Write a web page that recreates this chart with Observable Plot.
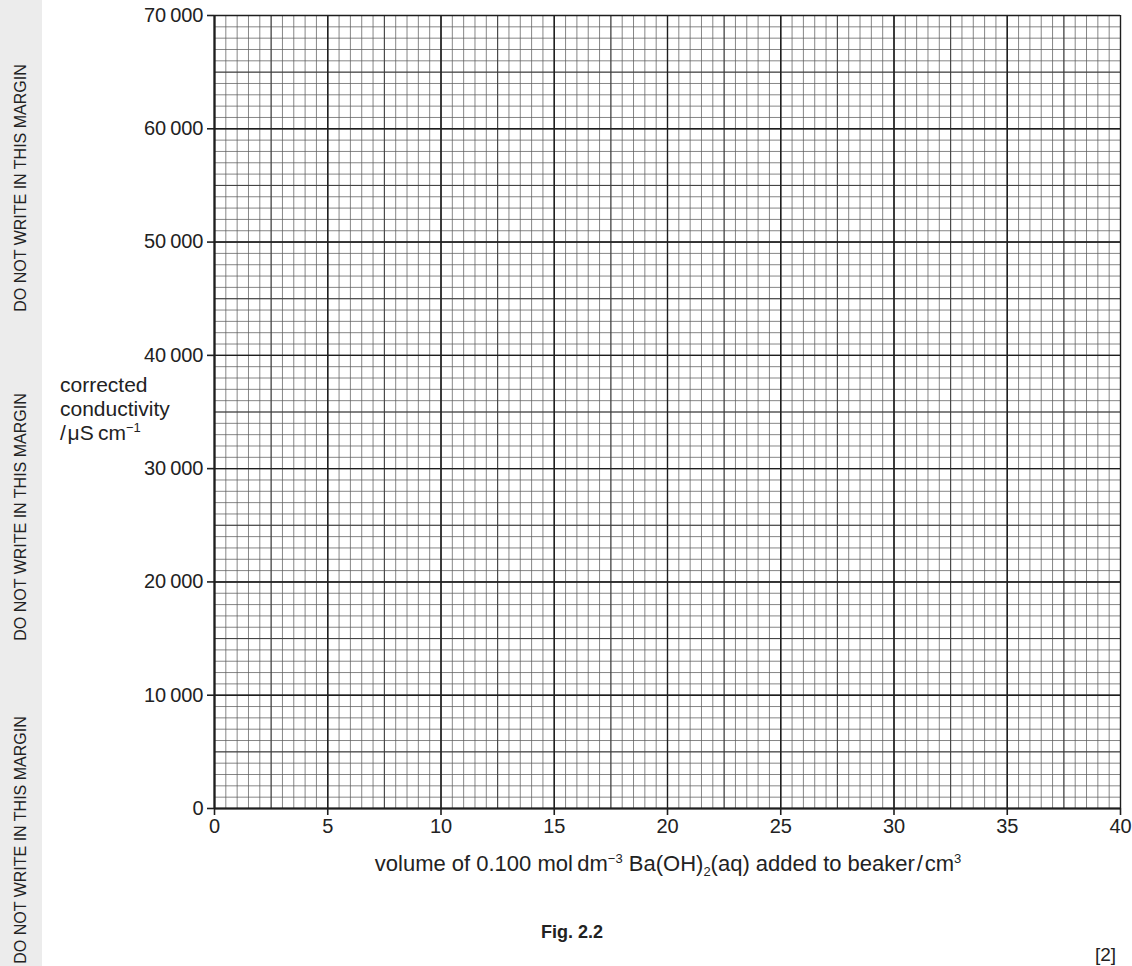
<!DOCTYPE html>
<html>
<head>
<meta charset="utf-8">
<script src="https://cdn.jsdelivr.net/npm/d3@7"></script>
<script src="https://cdn.jsdelivr.net/npm/@observablehq/plot@0.6"></script>
<style>
  html, body { margin: 0; padding: 0; background: #fff; width: 1132px; height: 966px; overflow: hidden; }
  body { position: relative; font-family: "Liberation Sans", Arial, Helvetica, sans-serif; color: #222; }
  #chart { position: absolute; left: 0; top: 0; }
  .strip { position: absolute; left: 0; top: 0; width: 42px; height: 966px; background: #ececec; }
  .margin-note { position: absolute; left: 21px; font-size: 16px; white-space: nowrap; color: #222;
    transform: translate(-50%, -50%) rotate(-90deg); }
  .ylab { position: absolute; left: 60px; top: 373px; font-size: 21px; line-height: 24px; white-space: nowrap; }
  .xlab { position: absolute; left: 668px; top: 851px; transform: translateX(-50%); font-size: 22px; line-height: 26px; white-space: nowrap; }
  sup, sub { font-size: 13px; line-height: 0; }
  sup { vertical-align: 8px; }
  sub { vertical-align: -5px; }
  .fig { position: absolute; left: 572px; top: 922px; transform: translateX(-50%); font-size: 18px; font-weight: bold; }
  .marks { position: absolute; left: 1095px; top: 944px; font-size: 19px; }
</style>
</head>
<body>
<div class="strip"></div>
<div id="chart"></div>
<div class="ylab">corrected<br>conductivity<br>/&#8202;<span>μ</span>S&#8201;cm<sup>−1</sup></div>
<div class="xlab">volume of 0.100 mol&#8201;dm<sup>−3</sup> Ba(OH)<sub>2</sub>(aq) added to beaker&#8202;/&#8202;cm<sup>3</sup></div>
<div class="fig">Fig. 2.2</div>
<div class="marks">[2]</div>
<script>
// Axis domains and tick values
const xDomain = [0, 40];
const yDomain = [0, 70000];
const xTicks = [0, 5, 10, 15, 20, 25, 30, 35, 40];
const yTicks = [0, 10000, 20000, 30000, 40000, 50000, 60000, 70000];
const marginNoteCenters = [188, 517, 840];
const marginNoteText = "DO NOT WRITE IN THIS MARGIN";

const fmtY = d => d === 0 ? "0" : d3.format(",")(d).replace(",", "\u2009");

const chart = Plot.plot({
  width: 1132,
  height: 966,
  marginLeft: 214,
  marginRight: 12,
  marginTop: 15,
  marginBottom: 158,
  style: { fontFamily: "Liberation Sans, Arial, Helvetica, sans-serif", fontSize: "20px", color: "#222", background: "transparent" },
  x: { domain: xDomain },
  y: { domain: yDomain },
  marks: [
    Plot.gridX({ interval: 0.5, stroke: "#5e5e5e", strokeOpacity: 1, strokeWidth: 0.75 }),
    Plot.gridY({ interval: 1000, stroke: "#5e5e5e", strokeOpacity: 1, strokeWidth: 0.75 }),
    Plot.gridX({ interval: 2.5, stroke: "#3c3c3c", strokeOpacity: 1, strokeWidth: 0.95 }),
    Plot.gridY({ interval: 5000, stroke: "#3c3c3c", strokeOpacity: 1, strokeWidth: 0.95 }),
    Plot.gridX(xTicks, { stroke: "#1e1e1e", strokeOpacity: 1, strokeWidth: 1.4 }),
    Plot.gridY(yTicks, { stroke: "#1e1e1e", strokeOpacity: 1, strokeWidth: 1.4 }),
    Plot.ruleX([xDomain[0]], { stroke: "#1e1e1e", strokeWidth: 2.2 }),
    Plot.ruleY([yDomain[0]], { stroke: "#1e1e1e", strokeWidth: 2.2 }),
    Plot.axisX(xTicks, { tickSize: 7, tickPadding: 3, label: null, fontSize: 20, stroke: "#1e1e1e", strokeWidth: 1.6, fill: "#222" }),
    Plot.axisY(yTicks, { tickSize: 7, tickPadding: 4, label: null, fontSize: 20, tickFormat: fmtY, stroke: "#1e1e1e", strokeWidth: 1.6, fill: "#222" })
  ]
});
document.getElementById("chart").appendChild(chart);

for (const c of marginNoteCenters) {
  const d = document.createElement("div");
  d.className = "margin-note";
  d.style.top = c + "px";
  d.textContent = marginNoteText;
  document.body.appendChild(d);
}
</script>
</body>
</html>
